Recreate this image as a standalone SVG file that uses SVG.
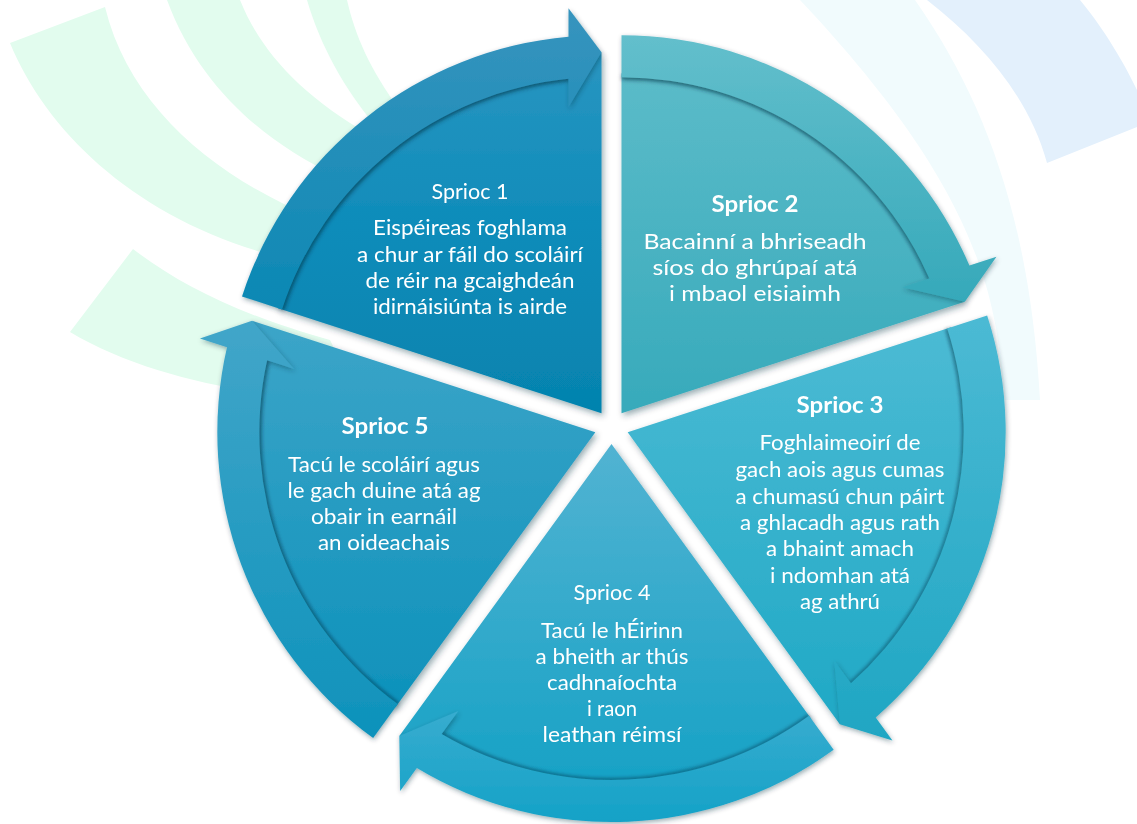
<svg xmlns="http://www.w3.org/2000/svg" width="1137" height="824" viewBox="0 0 1137 824">
<style>
.bgG{fill:#e2fcee}
.bgB{fill:#e3f0fc}
.bgP{fill:#f1fbfd}
.t{font-family:Lato,"Open Sans","Liberation Sans",sans-serif;fill:#ffffff;text-anchor:middle;font-size:21px}
.h{font-weight:700;font-size:23px}
.b2{font-size:22px}
.in{fill:none;stroke:#00324a;stroke-opacity:0.35;stroke-width:5}
</style>
<defs>
<filter id="sh" x="-15%" y="-15%" width="130%" height="130%"><feDropShadow dx="2" dy="3" stdDeviation="3" flood-color="#0b3040" flood-opacity="0.4"/></filter>
<filter id="ash" x="-15%" y="-15%" width="130%" height="130%"><feDropShadow dx="1" dy="2" stdDeviation="2.5" flood-color="#0b3040" flood-opacity="0.4"/></filter>
<filter id="bl" x="-10%" y="-10%" width="120%" height="120%"><feGaussianBlur stdDeviation="1.8"/></filter>
<linearGradient id="g1" gradientUnits="userSpaceOnUse" x1="0" y1="40" x2="0" y2="413"><stop offset="0" stop-color="#2b96c1"/><stop offset="0.5" stop-color="#0e8cba"/><stop offset="1" stop-color="#0583ae"/></linearGradient>
<linearGradient id="g1b" gradientUnits="userSpaceOnUse" x1="0" y1="8" x2="0" y2="310"><stop offset="0" stop-color="#3794be"/><stop offset="1" stop-color="#0b88b4"/></linearGradient>
<linearGradient id="g2" gradientUnits="userSpaceOnUse" x1="0" y1="35" x2="0" y2="413"><stop offset="0" stop-color="#5fbdca"/><stop offset="1" stop-color="#37aabb"/></linearGradient>
<linearGradient id="g2b" gradientUnits="userSpaceOnUse" x1="0" y1="35" x2="0" y2="300"><stop offset="0" stop-color="#63bfcc"/><stop offset="1" stop-color="#36a9ba"/></linearGradient>
<linearGradient id="g3" gradientUnits="userSpaceOnUse" x1="0" y1="315" x2="0" y2="740"><stop offset="0" stop-color="#4dbbd4"/><stop offset="1" stop-color="#1ea8c5"/></linearGradient>
<linearGradient id="g3b" gradientUnits="userSpaceOnUse" x1="0" y1="315" x2="0" y2="740"><stop offset="0" stop-color="#4cbad4"/><stop offset="1" stop-color="#1fa6c3"/></linearGradient>
<linearGradient id="g4" gradientUnits="userSpaceOnUse" x1="0" y1="444" x2="0" y2="822"><stop offset="0" stop-color="#52b3d2"/><stop offset="1" stop-color="#10a0c4"/></linearGradient>
<linearGradient id="g4b" gradientUnits="userSpaceOnUse" x1="0" y1="700" x2="0" y2="822"><stop offset="0" stop-color="#3badd0"/><stop offset="1" stop-color="#14a2c7"/></linearGradient>
<linearGradient id="g5" gradientUnits="userSpaceOnUse" x1="0" y1="296" x2="0" y2="740"><stop offset="0" stop-color="#3fa6c9"/><stop offset="1" stop-color="#0a90ba"/></linearGradient>
<linearGradient id="g5b" gradientUnits="userSpaceOnUse" x1="0" y1="296" x2="0" y2="740"><stop offset="0" stop-color="#45a7ca"/><stop offset="1" stop-color="#0d92bb"/></linearGradient>
</defs>
<rect width="1137" height="824" fill="#ffffff"/>
<g id="background">
<path class="bgG" d="M 10 43 L 105 7 C 130 110, 220 180, 320 220 L 300 262 C 150 230, 50 140, 10 43 Z"/>
<path class="bgG" d="M 167 0 L 240 0 C 260 50, 300 95, 370 135 L 335 175 C 270 145, 200 90, 167 0 Z"/>
<path class="bgG" d="M 307 0 L 347 0 C 355 35, 370 70, 400 110 L 375 125 C 345 90, 320 45, 307 0 Z"/>
<path class="bgG" d="M 70 332 L 133 249 C 180 285, 240 315, 330 340 L 360 400 C 270 400, 150 380, 70 332 Z"/>
<path class="bgP" d="M 800 0 L 915 0 C 985 100, 1030 220, 1040 400 L 1003 400 C 1000 280, 960 170, 800 0 Z"/>
<path class="bgB" d="M 927 0 L 1080 0 C 1105 30, 1125 65, 1137 90 L 1137 127 L 1047 163 C 1030 100, 985 45, 927 0 Z"/>
</g>
<g id="sprioc1" filter="url(#sh)">
<path fill="url(#g1)" d="M 601.5 413.25 L 278.14 308.18 A 340 340 0 0 1 568.5 74.86 L 601.5 52.25 Z"/>
<text class="t" x="470" y="199" textLength="77" lengthAdjust="spacingAndGlyphs">Sprioc 1</text>
<text class="t" x="470" y="235" textLength="194" lengthAdjust="spacingAndGlyphs">Eispéireas foghlama</text>
<text class="t" x="470" y="262" textLength="226" lengthAdjust="spacingAndGlyphs">a chur ar fáil do scoláirí</text>
<text class="t" x="470" y="288" textLength="209" lengthAdjust="spacingAndGlyphs">de réir na gcaighdeán</text>
<text class="t" x="470" y="314" textLength="194" lengthAdjust="spacingAndGlyphs">idirnáisiúnta is airde</text>
</g>
<g id="sprioc2" filter="url(#sh)">
<path fill="url(#g2)" d="M 621.5 413.25 L 621.5 73.25 A 340 340 0 0 1 933.13 277.3 L 964.83 301.69 Z"/>
<text class="t h" x="755" y="212" textLength="87" lengthAdjust="spacingAndGlyphs">Sprioc 2</text>
<text class="t b2" x="755" y="249" textLength="223" lengthAdjust="spacingAndGlyphs">Bacainní a bhriseadh</text>
<text class="t b2" x="755" y="275" textLength="205" lengthAdjust="spacingAndGlyphs">síos do ghrúpaí atá</text>
<text class="t b2" x="755" y="301" textLength="172" lengthAdjust="spacingAndGlyphs">i mbaol eisiaimh</text>
</g>
<g id="sprioc3" filter="url(#sh)">
<path fill="url(#g3)" d="M 627.67 432.25 L 951.03 327.18 A 340 340 0 0 1 853.27 686.62 L 839.86 724.31 Z"/>
<text class="t h" x="840" y="413" textLength="87" lengthAdjust="spacingAndGlyphs">Sprioc 3</text>
<text class="t" x="840" y="450" textLength="161" lengthAdjust="spacingAndGlyphs">Foghlaimeoirí de</text>
<text class="t" x="840" y="477" textLength="209" lengthAdjust="spacingAndGlyphs">gach aois agus cumas</text>
<text class="t" x="840" y="504" textLength="209" lengthAdjust="spacingAndGlyphs">a chumasú chun páirt</text>
<text class="t" x="840" y="530" textLength="200" lengthAdjust="spacingAndGlyphs">a ghlacadh agus rath</text>
<text class="t" x="840" y="556" textLength="148" lengthAdjust="spacingAndGlyphs">a bhaint amach</text>
<text class="t" x="840" y="583" textLength="140" lengthAdjust="spacingAndGlyphs">i ndomhan atá</text>
<text class="t" x="840" y="609" textLength="80" lengthAdjust="spacingAndGlyphs">ag athrú</text>
</g>
<g id="sprioc4" filter="url(#sh)">
<path fill="url(#g4)" d="M 611.5 444 L 811.35 719.07 A 340 340 0 0 1 439.3 737.17 L 399.31 736.06 Z"/>
<text class="t" x="612" y="600" textLength="77" lengthAdjust="spacingAndGlyphs">Sprioc 4</text>
<text class="t" x="612" y="638" textLength="142" lengthAdjust="spacingAndGlyphs">Tacú le hÉirinn</text>
<text class="t" x="612" y="664" textLength="153" lengthAdjust="spacingAndGlyphs">a bheith ar thús</text>
<text class="t" x="612" y="690" textLength="130" lengthAdjust="spacingAndGlyphs">cadhnaíochta</text>
<text class="t" x="612" y="716" textLength="50" lengthAdjust="spacingAndGlyphs">i raon</text>
<text class="t" x="612" y="742" textLength="139" lengthAdjust="spacingAndGlyphs">leathan réimsí</text>
</g>
<g id="sprioc5" filter="url(#sh)">
<path fill="url(#g5)" d="M 595.33 432.25 L 395.48 707.32 A 340 340 0 0 1 263.3 359.06 L 252 320.69 Z"/>
<text class="t h" x="385" y="434" textLength="87" lengthAdjust="spacingAndGlyphs">Sprioc 5</text>
<text class="t" x="384" y="472" textLength="192" lengthAdjust="spacingAndGlyphs">Tacú le scoláirí agus</text>
<text class="t" x="384" y="498" textLength="193" lengthAdjust="spacingAndGlyphs">le gach duine atá ag</text>
<text class="t" x="384" y="524" textLength="146" lengthAdjust="spacingAndGlyphs">obair in earnáil</text>
<text class="t" x="384" y="550" textLength="132" lengthAdjust="spacingAndGlyphs">an oideachais</text>
</g>
<g id="connectors">
<g filter="url(#bl)">
<path class="in" d="M 568.5 78.87 A 336 336 0 0 0 281.94 309.42"/>
<path class="in" d="M 929.32 278.54 A 336 336 0 0 0 621.5 77.25"/>
<path class="in" d="M 850.92 683.37 A 336 336 0 0 0 947.23 328.42"/>
<path class="in" d="M 441.65 733.92 A 336 336 0 0 0 809 715.83"/>
<path class="in" d="M 267.11 360.3 A 336 336 0 0 0 397.83 704.08"/>
</g>
<g filter="url(#ash)">
<path id="arrow1" fill="url(#g1b)" d="M 242 296.44 A 378 378 0 0 1 568.5 36.69 L 568.5 8.25 L 601.5 52.25 L 568.5 107.25 L 568.5 78.87 A 336 336 0 0 0 281.94 309.42 Z"/>
<path id="arrow2" fill="url(#g2b)" d="M 621.5 35.25 A 378 378 0 0 1 969.43 265.51 L 996.48 256.71 L 964.83 301.69 L 902.32 287.31 L 929.32 278.54 A 336 336 0 0 0 621.5 77.25 Z"/>
<path id="arrow3" fill="url(#g3b)" d="M 987.17 315.44 A 378 378 0 0 1 875.71 717.5 L 892.42 740.51 L 839.86 724.31 L 834.23 660.41 L 850.92 683.37 A 336 336 0 0 0 947.23 328.42 Z"/>
<path id="arrow4" fill="url(#g4b)" d="M 833.68 749.81 A 378 378 0 0 1 416.86 768.05 L 400.15 791.06 L 399.31 736.06 L 458.34 710.96 L 441.65 733.92 A 336 336 0 0 0 809 715.83 Z"/>
<path id="arrow5" fill="url(#g5b)" d="M 373.15 738.06 A 378 378 0 0 1 227 347.27 L 199.95 338.47 L 252 320.69 L 294.11 369.07 L 267.11 360.3 A 336 336 0 0 0 397.83 704.08 Z"/>
</g>
</g>
</svg>
